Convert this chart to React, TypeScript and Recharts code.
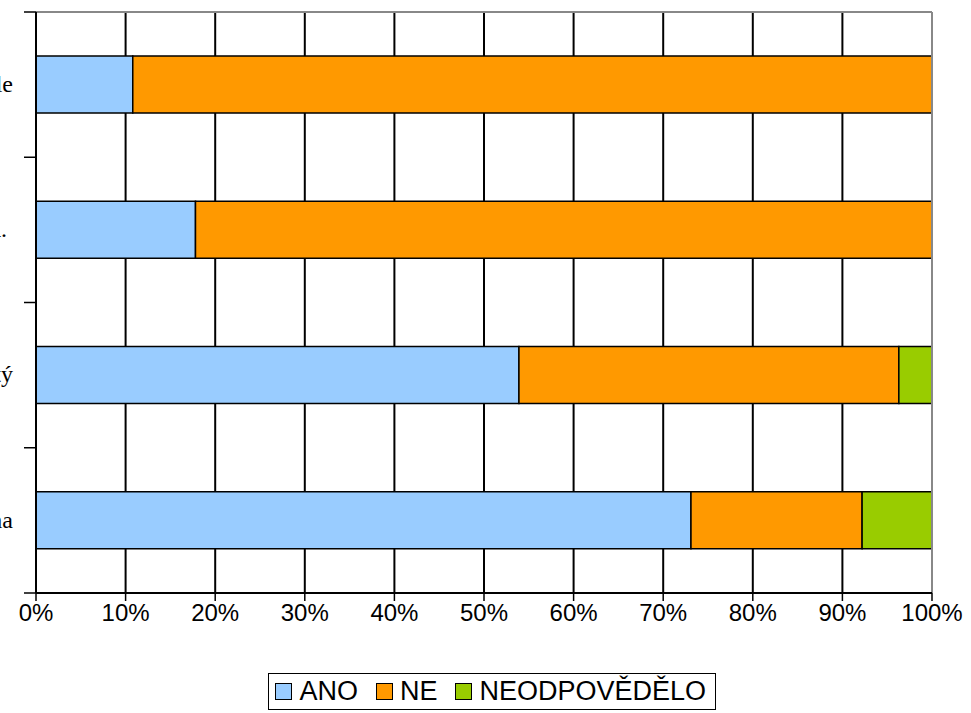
import React from 'react';
import {
  BarChart,
  Bar,
  XAxis,
  YAxis,
  CartesianGrid,
  Legend,
  ReferenceLine,
} from 'recharts';

// category labels run off the left edge in the original, only their last letters show
const categories = [
  'Zájem o sport ve volném čase a ve škole',
  'Účast na sportovních akcích, soutěžích atd.\u00a0',
  'Pravidelný pohyb je pro mě důležitý',
  'Sportuje celá rodina',
];
const ano = [10.8, 17.8, 53.9, 73.1];
const ne = [89.2, 82.2, 42.4, 19.1];
const neodpovedelo = [0, 0, 3.7, 7.8];
const xTicks = [0, 10, 20, 30, 40, 50, 60, 70, 80, 90, 100];

const seriesInfo = [
  { key: 'ano', name: 'ANO', color: '#99CCFF' },
  { key: 'ne', name: 'NE', color: '#FF9900' },
  { key: 'neodpovedelo', name: 'NEODPOVĚDĚLO', color: '#99CC00' },
];

const data = categories.map((name, i) => ({
  name,
  ano: ano[i],
  ne: ne[i],
  neodpovedelo: neodpovedelo[i],
}));

const LegendBox = () => (
  <div style={{ display: 'flex', justifyContent: 'flex-end', width: 716, height: 37 }}>
    <div
      style={{
        boxSizing: 'border-box',
        height: 37,
        border: '1.5px solid #000',
        display: 'flex',
        alignItems: 'center',
        padding: '0 9px 0 6px',
        fontFamily: '"Liberation Sans", Arial, sans-serif',
        fontSize: 27,
        color: '#000',
        background: '#fff',
      }}
    >
      {seriesInfo.map((s, i) => (
        <div
          key={s.key}
          style={{ display: 'flex', alignItems: 'center', marginRight: i < 2 ? 18 : 0 }}
        >
          <span
            style={{
              display: 'inline-block',
              width: 15,
              height: 15,
              background: s.color,
              border: '1px solid #000',
              marginRight: 7,
            }}
          />
          <span>{s.name}</span>
        </div>
      ))}
    </div>
  </div>
);

// label plus the tick marks that sit between categories (Excel style)
const CategoryTick = ({ x, y, payload, index, visibleTicksCount }: any) => {
  const half = payload.offset || 0;
  const axisX = x + 8;
  return (
    <g>
      <line x1={axisX - 12} x2={axisX} y1={y - half} y2={y - half} stroke="#000" strokeWidth={1.5} />
      {index === visibleTicksCount - 1 && (
        <line x1={axisX - 12} x2={axisX} y1={y + half} y2={y + half} stroke="#000" strokeWidth={1.5} />
      )}
      <text
        x={13}
        y={y}
        dy="0.3em"
        textAnchor="end"
        fill="#000"
        fontSize={24}
        fontFamily={'"Liberation Serif", "Times New Roman", serif'}
        style={{ whiteSpace: 'pre' }}
      >
        {payload.value}
      </text>
    </g>
  );
};

export default function App() {
  return (
    <div style={{ position: 'absolute', left: 0, top: 0, background: '#fff' }}>
      <BarChart
        width={971}
        height={713}
        data={data}
        layout="vertical"
        margin={{ top: 12, right: 39, left: 0, bottom: 0 }}
        barSize={57}
      >
        <CartesianGrid
          horizontal={false}
          stroke="#000"
          strokeWidth={2}
          verticalCoordinatesGenerator={({ offset }: any) =>
            xTicks.slice(0, -1).map((t) => offset.left + (t / 100) * offset.width)
          }
        />
        <CartesianGrid
          vertical={false}
          stroke="#888"
          strokeWidth={2}
          horizontalCoordinatesGenerator={({ offset }: any) => [offset.top]}
        />
        <XAxis
          type="number"
          domain={[0, 100]}
          ticks={xTicks}
          tickFormatter={(v) => `${v}%`}
          height={83}
          tickSize={8}
          tickMargin={3}
          axisLine={{ stroke: '#000', strokeWidth: 2 }}
          tickLine={{ stroke: '#000', strokeWidth: 1.5 }}
          tick={{ fill: '#000', fontSize: 24, fontFamily: '"Liberation Sans", Arial, sans-serif' }}
          interval={0}
        />
        <YAxis
          type="category"
          dataKey="name"
          width={36}
          axisLine={{ stroke: '#000', strokeWidth: 2 }}
          tickLine={false}
          tickSize={0}
          tickMargin={8}
          tick={<CategoryTick />}
          interval={0}
        />
        <ReferenceLine x={100} stroke="#888" strokeWidth={2} />
        {seriesInfo.map((s) => (
          <Bar
            key={s.key}
            dataKey={s.key}
            name={s.name}
            stackId="a"
            fill={s.color}
            stroke="#000"
            strokeWidth={1.5}
            isAnimationActive={false}
          />
        ))}
        <Legend
          verticalAlign="bottom"
          content={<LegendBox />}
          wrapperStyle={{ left: 0, width: 971, bottom: 3 }}
        />
      </BarChart>
    </div>
  );
}
